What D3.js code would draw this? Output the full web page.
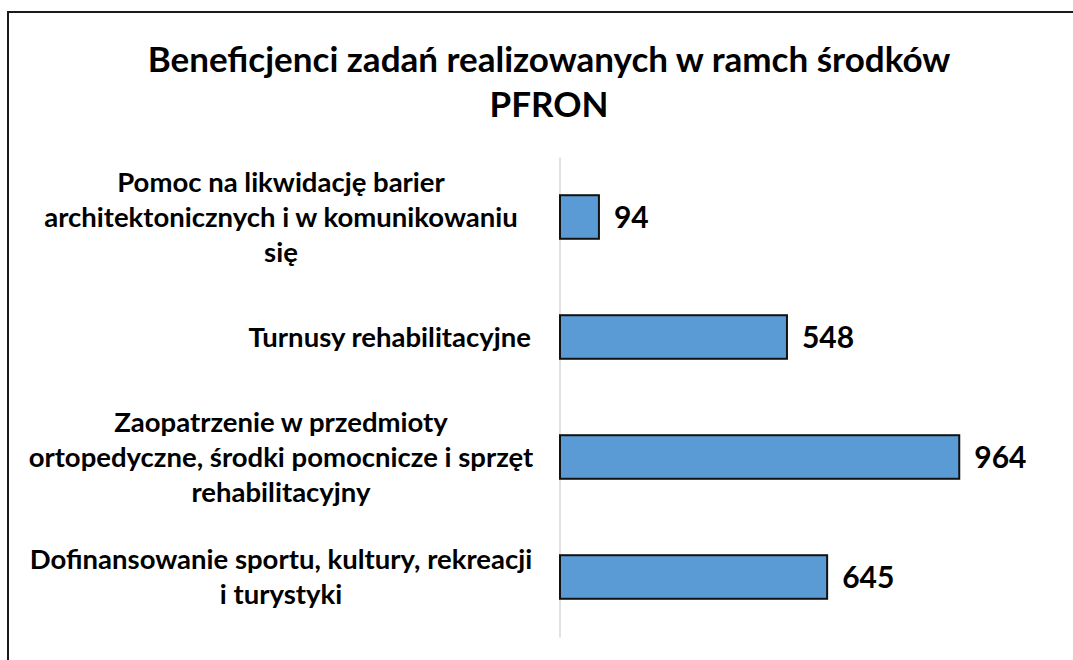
<!DOCTYPE html>
<html>
  <head>
    <meta charset="utf-8" />
    <style>
      body {
        margin: 0;
        background: #fff;
      }
      svg text {
        font-family: Lato, 'Open Sans', sans-serif;
        font-weight: bold;
        fill: #000;
      }
    </style>
  </head>
  <body>
    <div class="chart"></div>
    <script src="https://d3js.org/d3.v7.min.js"></script>
    <script type="text/javascript">
      const width = 1073;
      const height = 660;

      const titleLines = ['Beneficjenci zadań realizowanych w ramch środków', 'PFRON'];
      const categories = [
        'Pomoc na likwidację barier architektonicznych i w komunikowaniu się',
        'Turnusy rehabilitacyjne',
        'Zaopatrzenie w przedmioty ortopedyczne, środki pomocnicze i sprzęt rehabilitacyjny',
        'Dofinansowanie sportu, kultury, rekreacji i turystyki',
      ];
      // wrapped the way the original chart breaks them
      const categoryLines = [
        ['Pomoc na likwidację barier', 'architektonicznych i w komunikowaniu', 'się'],
        ['Turnusy rehabilitacyjne'],
        ['Zaopatrzenie w przedmioty', 'ortopedyczne, środki pomocnicze i sprzęt', 'rehabilitacyjny'],
        ['Dofinansowanie sportu, kultury, rekreacji', 'i turystyki'],
      ];
      const values = [94, 548, 964, 645];
      const xDomain = [0, 1200];

      const plot = { left: 560, right: 1057, top: 157, bottom: 637 };
      const labelRight = 531;
      const wrapWidth = 500;
      const lineHeight = 35;

      const svg = d3
        .select('.chart')
        .append('svg')
        .attr('width', width)
        .attr('height', height);

      svg.append('rect').attr('width', width).attr('height', height).attr('fill', '#fff');

      // chart frame (right and bottom edges fall outside the picture)
      svg
        .append('rect')
        .attr('x', 8)
        .attr('y', 12)
        .attr('width', 1075)
        .attr('height', 660)
        .attr('fill', 'none')
        .attr('stroke', '#1a1a1a')
        .attr('stroke-width', 2);

      svg
        .append('text')
        .attr('text-anchor', 'middle')
        .style('font-size', '35px')
        .selectAll('tspan')
        .data(titleLines)
        .enter()
        .append('tspan')
        .attr('x', 549)
        .attr('y', (d, i) => 72 + i * 45)
        .text((d) => d);

      const scaleY = d3
        .scaleBand()
        .domain(categories)
        .range([plot.top, plot.bottom])
        .paddingInner(0.637)
        .paddingOuter(0.3185);
      const scaleX = d3.scaleLinear().domain(xDomain).range([plot.left, plot.right]);

      // vertical category axis line
      const axisLeft = d3.axisLeft(scaleY).tickSize(0).tickFormat('');
      const axisG = svg
        .append('g')
        .attr('transform', `translate(${plot.left - 0.5},0)`)
        .call(axisLeft);
      axisG.select('.domain').attr('stroke', '#d9d9d9').attr('stroke-width', 1.5);

      svg
        .selectAll('rect.bar')
        .data(values)
        .enter()
        .append('rect')
        .attr('class', 'bar')
        .attr('x', scaleX(0))
        .attr('y', (d, i) => scaleY(categories[i]))
        .attr('width', (d) => scaleX(d) - scaleX(0))
        .attr('height', scaleY.bandwidth())
        .attr('fill', '#5b9bd5')
        .attr('stroke', '#111')
        .attr('stroke-width', 2);

      svg
        .selectAll('text.value')
        .data(values)
        .enter()
        .append('text')
        .attr('class', 'value')
        .attr('x', (d) => scaleX(d) + 15)
        .attr('y', (d, i) => scaleY(categories[i]) + scaleY.bandwidth() / 2)
        .attr('dy', '0.36em')
        .style('font-size', '30px')
        .text((d) => d);

      // category labels: wrapped ones centred in the wrap box, single lines right aligned
      categoryLines.forEach((lines, i) => {
        const cy = scaleY(categories[i]) + scaleY.bandwidth() / 2;
        const g = svg.append('g').attr('class', 'cat');
        const texts = lines.map((line, j) =>
          g
            .append('text')
            .attr('text-anchor', 'middle')
            .attr('y', cy + (j - (lines.length - 1) / 2) * lineHeight)
            .attr('dy', '0.36em')
            .style('font-size', '27.5px')
            .text(line)
        );
        const maxW = d3.max(texts, (t) => t.node().getComputedTextLength());
        const boxW = lines.length > 1 ? wrapWidth : maxW;
        texts.forEach((t) => t.attr('x', labelRight - boxW / 2));
      });
    </script>
  </body>
</html>
